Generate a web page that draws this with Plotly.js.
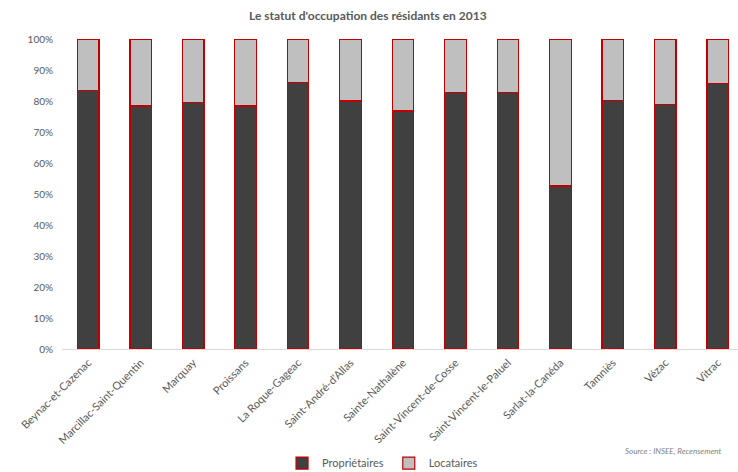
<!DOCTYPE html>
<html><head><meta charset="utf-8">
<script src="https://cdn.plot.ly/plotly-3.0.1.min.js"></script>
<style>html,body{margin:0;padding:0;overflow:hidden;background:#fff}</style>
</head><body><div id="chart"></div>
<script>
const communes = ["Beynac-et-Cazenac","Marcillac-Saint-Quentin","Marquay","Proissans","La Roque-Gageac","Saint-André-d'Allas","Sainte-Nathalène","Saint-Vincent-de-Cosse","Saint-Vincent-le-Paluel","Sarlat-la-Canéda","Tamniès","Vézac","Vitrac"];
const proprietaires = [0.833,0.784,0.795,0.784,0.860,0.800,0.768,0.827,0.827,0.526,0.801,0.789,0.856];
const locataires = proprietaires.map(v => 1 - v);
const yTicks = [0,0.1,0.2,0.3,0.4,0.5,0.6,0.7,0.8,0.9,1];

const font = "Lato, 'Open Sans', sans-serif";
const traces = [
  {type:'bar', name:'Propriétaires', x:communes, y:proprietaires,
   marker:{color:'#404040', line:{color:'#C00000', width:1.2}}},
  {type:'bar', name:'Locataires', x:communes, y:locataires,
   marker:{color:'#BFBFBF', line:{color:'#C00000', width:1.2}}}
];
const layout = {
  width:760, height:472,
  margin:{l:62, r:16, t:39, b:123, autoexpand:false},
  barmode:'stack', bargap:0.59,
  paper_bgcolor:'#fff', plot_bgcolor:'#fff',
  font:{family:font, color:'#595959', size:10},
  title:{text:"<b>Le statut d'occupation des résidants en 2013</b>", x:0.484, xref:'container', y:0.966, yanchor:'middle',
         font:{family:font, size:12, color:'#595959'}},
  xaxis:{tickangle:-45, showline:true, linecolor:'#D9D9D9', linewidth:1, ticks:'', showgrid:false,
         automargin:false, ticklabelstandoff:2, tickfont:{size:11, color:'#595959'}},
  yaxis:{range:[0,1], tickvals:yTicks, tickformat:'.0%', showgrid:false, zeroline:false, showline:false,
         automargin:false, ticks:'', ticklabelstandoff:8, tickfont:{size:10, color:'#595959'}},
  showlegend:true,
  legend:{orientation:'h', x:0.47, xanchor:'center', y:-0.368, yanchor:'middle', itemwidth:30,
          font:{size:11, color:'#595959'}, traceorder:'normal'},
  annotations:[{text:'<i>Source : INSEE, Recensement</i>', xref:'paper', yref:'paper',
                x:0.823, y:-0.329, xanchor:'left', yanchor:'middle', showarrow:false,
                font:{size:8, color:'#7F7F7F', family:font}}]
};
Plotly.newPlot('chart', traces, layout, {displayModeBar:false, responsive:false});
</script></body></html>
